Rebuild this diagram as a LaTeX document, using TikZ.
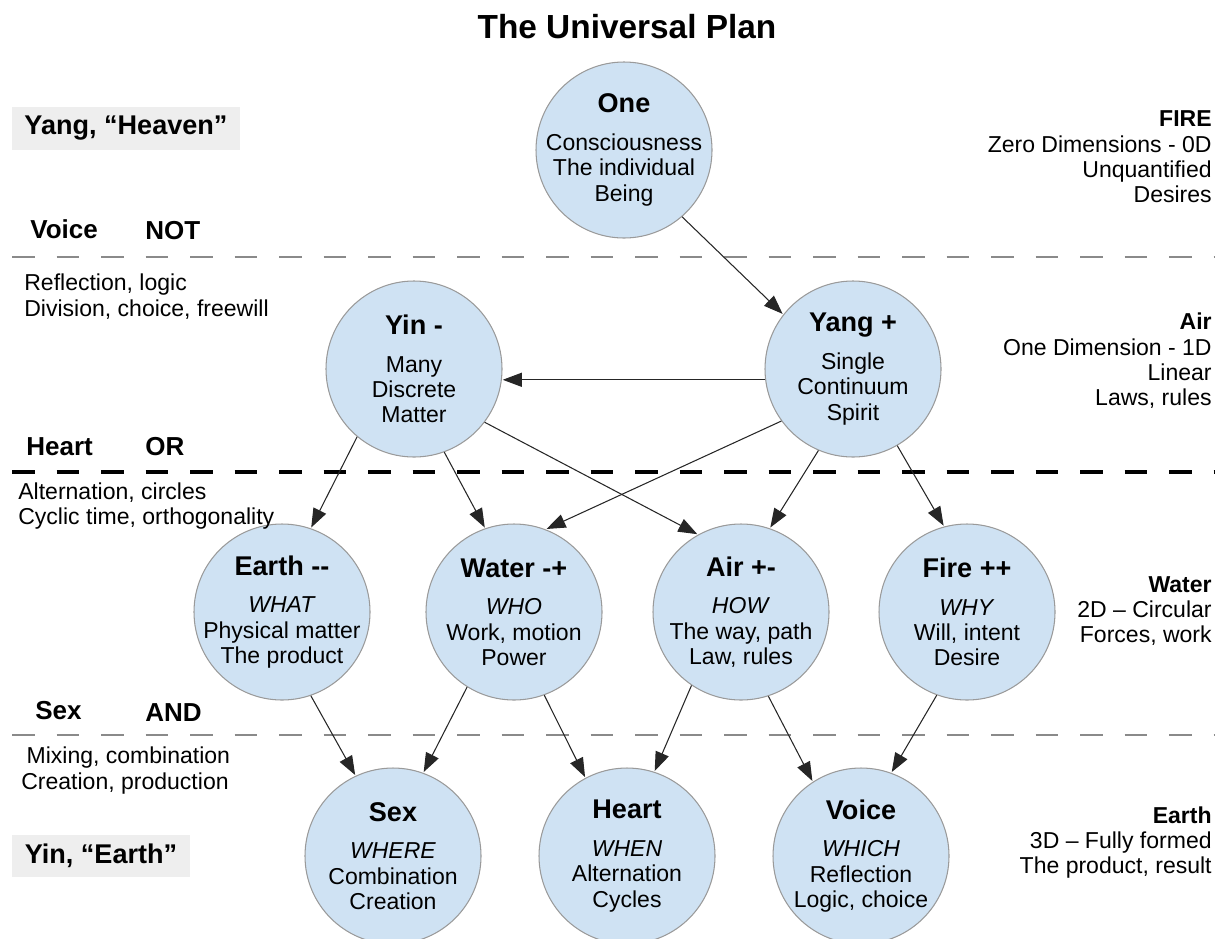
\documentclass[tikz,border=0pt]{standalone}
\usepackage{fontspec}
\setmainfont{Liberation Sans}
\usetikzlibrary{arrows.meta}

\definecolor{elemblue}{HTML}{CFE2F3}
\definecolor{elemrim}{HTML}{9A9A9A}
\definecolor{bandgray}{HTML}{EEEEEE}
\definecolor{sepgray}{HTML}{8A8A8A}

\newcommand{\elemtitle}[1]{{\fontsize{15.4}{18}\selectfont\bfseries #1}}

\begin{document}
\begin{tikzpicture}[auto,
    element/.style ={circle, draw=elemrim, fill=elemblue, line width=0.6pt,
      minimum size=3.52cm, inner sep=-0.8cm, align=center,
      font=\fontsize{13.1}{14.4}\selectfont},
    arrowline/.style ={draw=black!85, line width=0.6pt,
      -{Triangle[length=0.38cm, width=0.28cm]}, shorten >=0.5pt},
    band/.style ={fill=bandgray, inner sep=0pt,
      font=\fontsize{15.4}{18}\selectfont\bfseries},
    gate/.style ={anchor=west, inner sep=0pt,
      font=\fontsize{14.8}{17}\selectfont\bfseries},
    note/.style ={inner sep=0pt, font=\fontsize{13.1}{14.4}\selectfont},
    thinsep/.style ={draw=sepgray, line width=1.1pt, dash pattern=on 0.45cm off 0.44cm},
    thicksep/.style ={draw=black, line width=2pt, dash pattern=on 0.45cm off 0.44cm}]
   \clip (0,0) rectangle (24.46,-18.76);

   \node[font=\fontsize{19}{22}\selectfont\bfseries] (title) at (12.54,-0.54) {The Universal Plan};

   % level bands
   \draw[thinsep] (0.24,-5.14) -- (24.3,-5.14);
   \draw[thicksep] (0.24,-9.44) -- (24.3,-9.44);
   \draw[thinsep] (0.24,-14.7) -- (24.3,-14.7);

   % elements
   \node[element] (one) at (12.48,-3.0) {\elemtitle{One}\\[7pt]Consciousness\\The individual\\Being};
   \node[element] (yin) at (8.28,-7.38) {\elemtitle{Yin -}\\[7pt]Many\\Discrete\\Matter};
   \node[element] (yang) at (17.06,-7.38) {\elemtitle{Yang +}\\[7pt]Single\\Continuum\\Spirit};
   \node[element] (earth) at (5.64,-12.24) {\elemtitle{Earth -{}-}\\[7pt]\textit{WHAT}\\Physical matter\\The product};
   \node[element] (water) at (10.28,-12.24) {\elemtitle{Water -+}\\[7pt]\textit{WHO}\\Work, motion\\Power};
   \node[element] (air) at (14.82,-12.24) {\elemtitle{Air +-}\\[7pt]\textit{HOW}\\The way, path\\Law, rules};
   \node[element] (fire) at (19.34,-12.24) {\elemtitle{Fire ++}\\[7pt]\textit{WHY}\\Will, intent\\Desire};
   \node[element] (sex) at (7.86,-17.12) {\elemtitle{Sex}\\[7pt]\textit{WHERE}\\Combination\\Creation};
   \node[element] (heart) at (12.54,-17.12) {\elemtitle{Heart}\\[7pt]\textit{WHEN}\\Alternation\\Cycles};
   \node[element] (voice) at (17.22,-17.12) {\elemtitle{Voice}\\[7pt]\textit{WHICH}\\Reflection\\Logic, choice};

   % left column
   \node[band, minimum width=4.56cm, minimum height=0.86cm] (heaven) at (2.52,-2.57) {Yang, “Heaven”};
   \node[band, minimum width=3.56cm, minimum height=0.84cm] (earthband) at (2.02,-17.12) {Yin, “Earth”};
   \node[gate] (voicelbl) at (0.6,-4.58) {Voice};
   \node[gate] (notlbl) at (2.9,-4.62) {NOT};
   \node[gate] (heartlbl) at (0.52,-8.94) {Heart};
   \node[gate] (orlbl) at (2.9,-8.94) {OR};
   \node[gate] (sexlbl) at (0.7,-14.22) {Sex};
   \node[gate] (andlbl) at (2.9,-14.26) {AND};
   \node[note, anchor=west, align=left] (notnote) at (0.48,-5.93) {Reflection, logic\\Division, choice, freewill};
   \node[note, anchor=west, align=left] (ornote) at (0.36,-10.12) {Alternation, circles\\Cyclic time, orthogonality};
   \node[note, anchor=west, align=left] (andnote) at (0.42,-15.41) {\hspace*{3pt}Mixing, combination\\Creation, production};

   % right column
   \node[note, anchor=east, align=right] (firenote) at (24.24,-3.14) {\textbf{FIRE}\\Zero Dimensions - 0D\\Unquantified\\Desires};
   \node[note, anchor=east, align=right] (airnote) at (24.24,-7.22) {\textbf{Air}\\One Dimension - 1D\\Linear\\Laws, rules};
   \node[note, anchor=east, align=right] (waternote) at (24.24,-12.22) {\textbf{Water}\\2D – Circular\\Forces, work};
   \node[note, anchor=east, align=right] (earthnote) at (24.24,-16.85) {\textbf{Earth}\\3D – Fully formed\\The product, result};

   \draw[arrowline] (one.-49) to (yang.142);
   \draw[arrowline] (yang.187) to (yin.-7);
   \draw[arrowline] (yin.230) to (earth.71);
   \draw[arrowline] (yin.290) to (water.109);
   \draw[arrowline] (yin.-37) to (air.119);
   \draw[arrowline] (yang.216) to (water.69);
   \draw[arrowline] (yang.247) to (air.71);
   \draw[arrowline] (yang.300) to (fire.105);
   \draw[arrowline] (earth.-71) to (sex.115);
   \draw[arrowline] (water.238) to (sex.70);
   \draw[arrowline] (water.-70) to (heart.118);
   \draw[arrowline] (air.236) to (heart.72);
   \draw[arrowline] (air.-72) to (voice.123);
   \draw[arrowline] (fire.250) to (voice.70);
 \end{tikzpicture}
\end{document}
